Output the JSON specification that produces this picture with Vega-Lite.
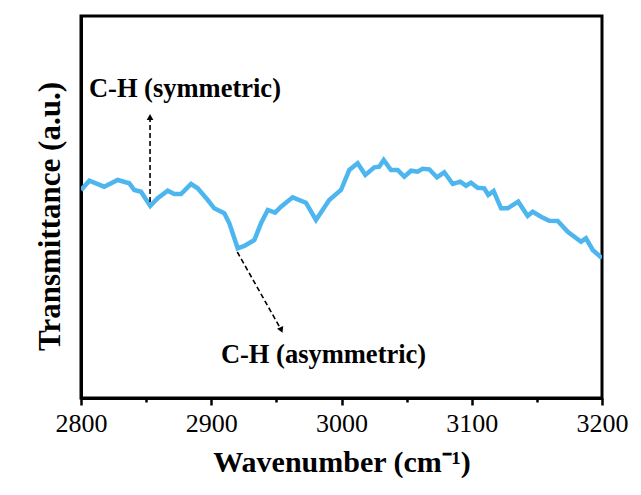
{
  "$schema": "https://vega.github.io/schema/vega-lite/v6.json",
  "width": 521,
  "height": 382,
  "autosize": "none",
  "padding": {"left": 81, "top": 16, "right": 39, "bottom": 97},
  "background": "white",
  "config": {
    "view": {"stroke": "black", "strokeWidth": 3},
    "font": "Liberation Serif",
    "axis": {"labelFont": "Liberation Serif", "titleFont": "Liberation Serif"}
  },
  "datasets": {
    "spectrum": [
      {"wn": 2800.0, "t": 202},
      {"wn": 2801.3, "t": 203.7},
      {"wn": 2806.4, "t": 211.3},
      {"wn": 2817.7, "t": 205.3},
      {"wn": 2828.2, "t": 212},
      {"wn": 2837.1, "t": 208.7},
      {"wn": 2840.9, "t": 202},
      {"wn": 2846.1, "t": 200.3},
      {"wn": 2853.2, "t": 186},
      {"wn": 2858.9, "t": 193.7},
      {"wn": 2866.6, "t": 201.3},
      {"wn": 2871.6, "t": 198},
      {"wn": 2876.8, "t": 198},
      {"wn": 2884.5, "t": 208},
      {"wn": 2889.6, "t": 203.7},
      {"wn": 2897.3, "t": 192},
      {"wn": 2902.3, "t": 183.7},
      {"wn": 2910.0, "t": 178.7},
      {"wn": 2913.9, "t": 168.7},
      {"wn": 2920.3, "t": 143.7},
      {"wn": 2925.4, "t": 146},
      {"wn": 2933.1, "t": 152},
      {"wn": 2938.2, "t": 168.7},
      {"wn": 2943.4, "t": 182},
      {"wn": 2949.0, "t": 179.3},
      {"wn": 2953.6, "t": 185.3},
      {"wn": 2962.5, "t": 194.7},
      {"wn": 2972.7, "t": 189.3},
      {"wn": 2980.4, "t": 172},
      {"wn": 2990.6, "t": 192},
      {"wn": 2999.6, "t": 202},
      {"wn": 3006.0, "t": 222},
      {"wn": 3012.4, "t": 228.7},
      {"wn": 3018.3, "t": 217},
      {"wn": 3025.2, "t": 224.7},
      {"wn": 3029.0, "t": 225.3},
      {"wn": 3032.4, "t": 232},
      {"wn": 3038.0, "t": 222},
      {"wn": 3043.1, "t": 222},
      {"wn": 3048.2, "t": 215.3},
      {"wn": 3053.4, "t": 221.3},
      {"wn": 3058.5, "t": 220.3},
      {"wn": 3062.3, "t": 223.3},
      {"wn": 3067.4, "t": 222.7},
      {"wn": 3073.3, "t": 214.7},
      {"wn": 3078.9, "t": 219.7},
      {"wn": 3085.4, "t": 208},
      {"wn": 3091.2, "t": 210.3},
      {"wn": 3095.6, "t": 206.3},
      {"wn": 3099.4, "t": 209.3},
      {"wn": 3104.5, "t": 204.3},
      {"wn": 3109.6, "t": 203.7},
      {"wn": 3112.7, "t": 197},
      {"wn": 3116.8, "t": 201},
      {"wn": 3122.5, "t": 183.7},
      {"wn": 3127.6, "t": 183.7},
      {"wn": 3135.7, "t": 190.3},
      {"wn": 3142.9, "t": 176},
      {"wn": 3146.8, "t": 180.3},
      {"wn": 3153.2, "t": 175.3},
      {"wn": 3159.5, "t": 171.3},
      {"wn": 3166.0, "t": 171},
      {"wn": 3173.7, "t": 160.3},
      {"wn": 3183.9, "t": 150.3},
      {"wn": 3187.7, "t": 153.7},
      {"wn": 3192.9, "t": 142},
      {"wn": 3199.2, "t": 134.7},
      {"wn": 3200.0, "t": 134}
    ],
    "arrows": [
      {"x1": 2853.0, "y1": 190, "x2": 2853.0, "y2": 272},
      {"x1": 2920.0, "y1": 140, "x2": 2952.5, "y2": 65}
    ],
    "heads": [
      {"x": 2853.0, "y": 275, "angle": 0},
      {"x": 2953.8, "y": 62, "angle": 156}
    ],
    "labels": [
      {"x": 2879.8, "y": 295, "label": "C-H (symmetric)"},
      {"x": 2986.2, "y": 29, "label": "C-H (asymmetric)"}
    ]
  },
  "layer": [
    {
      "data": {"name": "spectrum"},
      "mark": {"type": "line", "color": "#4DB6EE", "strokeWidth": 4.5, "clip": true},
      "encoding": {
        "x": {
          "field": "wn", "type": "quantitative",
          "scale": {"domain": [2800, 3200], "nice": false, "zero": false},
          "axis": {
            "title": "Wavenumber (cm⁻¹)",
            "values": [2800, 2850, 2900, 2950, 3000, 3050, 3100, 3150, 3200],
            "labelExpr": "datum.value % 100 === 0 ? datum.label : ''",
            "format": "d",
            "grid": false,
            "domainColor": "black", "domainWidth": 3,
            "tickColor": "black", "tickWidth": 2.5,
            "tickSize": {"condition": {"test": "datum.value % 100 === 0", "value": 7}, "value": 4},
            "labelFont": "Liberation Serif", "labelFontSize": 26, "labelColor": "black",
            "labelPadding": 5,
            "labelFlush": false,
            "titleFont": "Liberation Serif", "titleFontSize": 30, "titleFontWeight": "bold",
            "titleColor": "black", "titlePadding": 11
          }
        },
        "y": {
          "field": "t", "type": "quantitative",
          "scale": {"domain": [-6, 376], "nice": false, "zero": false},
          "axis": {
            "title": "Transmittance (a.u.)",
            "labels": false, "ticks": false, "grid": false,
            "domainColor": "black", "domainWidth": 3,
            "titleFont": "Liberation Serif", "titleFontSize": 31, "titleFontWeight": "bold",
            "titleColor": "black", "titlePadding": 15, "titleY": 200
          }
        }
      }
    },
    {
      "data": {"name": "arrows"},
      "mark": {"type": "rule", "color": "black", "strokeWidth": 1.6, "strokeDash": [5, 3]},
      "encoding": {
        "x": {"field": "x1", "type": "quantitative"},
        "y": {"field": "y1", "type": "quantitative"},
        "x2": {"field": "x2"},
        "y2": {"field": "y2"}
      }
    },
    {
      "data": {"name": "heads"},
      "mark": {"type": "point", "shape": "triangle-up", "filled": true, "color": "black", "size": 45, "opacity": 1},
      "encoding": {
        "x": {"field": "x", "type": "quantitative"},
        "y": {"field": "y", "type": "quantitative"},
        "angle": {"field": "angle", "type": "quantitative", "scale": null}
      }
    },
    {
      "data": {"name": "labels"},
      "mark": {"type": "text", "font": "Liberation Serif", "fontSize": 26.5, "fontWeight": "bold", "color": "black", "align": "center", "baseline": "alphabetic"},
      "encoding": {
        "x": {"field": "x", "type": "quantitative"},
        "y": {"field": "y", "type": "quantitative"},
        "text": {"field": "label", "type": "nominal"}
      }
    }
  ]
}
